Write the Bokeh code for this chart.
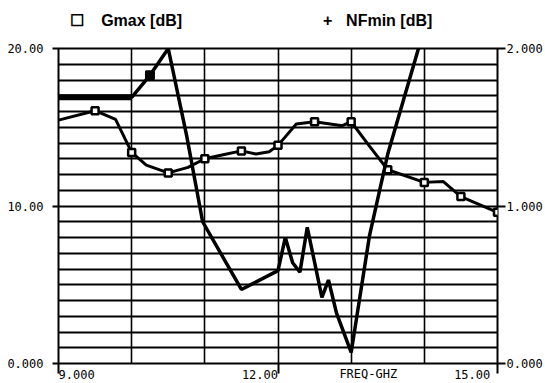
from bokeh.plotting import figure
from bokeh.models import Range1d, LinearAxis, FixedTicker
from bokeh.embed import file_html
from bokeh.resources import INLINE

# ---- data ----
freq_gmax = [9.0, 9.5, 9.78, 10.0, 10.2, 10.5, 10.77, 11.0, 11.25, 11.5, 11.7, 11.88,
             12.0, 12.25, 12.5, 12.88, 13.0, 13.25, 13.5, 14.0, 14.26, 14.5, 15.0]
gmax = [15.45, 16.05, 15.5, 13.4, 12.6, 12.1, 12.45, 13.0, 13.25, 13.5, 13.3, 13.45,
        13.85, 15.2, 15.35, 15.1, 15.35, 13.8, 12.3, 11.5, 11.55, 10.6, 9.6]
gmax_marker_freq = [9.5, 10.0, 10.5, 11.0, 11.5, 12.0, 12.5, 13.0, 13.5, 14.0, 14.5, 15.0]

freq_nf = [9.0, 10.0, 10.25, 10.5, 10.75, 10.97, 11.5, 12.0, 12.1, 12.2, 12.3, 12.4,
           12.6, 12.69, 12.8, 13.0, 13.25, 13.5, 13.92]
nf = [1.69, 1.69, 1.83, 2.0, 1.45, 0.90, 0.47, 0.59, 0.80, 0.64, 0.58, 0.865,
      0.42, 0.53, 0.32, 0.07, 0.81, 1.33, 2.0]
nf_marker_freq = [10.25]

left_ticks = [0, 10, 20]
left_labels = ["0.000", "10.00", "20.00"]
right_ticks = [0, 1, 2]
right_labels = ["0.000", "1.000", "2.000"]
x_ticks = [9, 12, 15]
x_labels = ["9.000", "12.00", "15.00"]
x_label_side = ["right", "left", "left"]   # side of the tick on which each label sits
x_label_pad = [5, 5, 7]
x_title = "FREQ-GHZ"
legend_pos = [9.25, 10.136, 12.68, 13.52]
legend_texts = ["\u2610", "Gmax [dB]", "+", "NFmin [dB]"]

MONO = "DejaVu Sans Mono"
NB = "\u00a0"

p = figure(width=545, height=383, x_range=Range1d(9, 15), y_range=Range1d(0, 20),
           output_backend="svg", toolbar_location=None,
           min_border_left=58, min_border_right=46, min_border_top=48, min_border_bottom=19,
           x_axis_location=None, y_axis_location=None)
p.extra_y_ranges = {"nf": Range1d(0, 2)}
p.background_fill_color = "white"
p.border_fill_color = "white"
p.outline_line_color = "black"
p.outline_line_width = 2


def style_axis(ax, tick_out, standoff, size="12px"):
    ax.axis_line_color = None
    ax.major_tick_out = tick_out
    ax.major_tick_in = 0
    ax.major_tick_line_width = 2
    ax.major_tick_line_color = "black"
    ax.minor_tick_line_color = None
    ax.major_label_standoff = standoff
    ax.major_label_text_font = MONO
    ax.major_label_text_font_size = size
    ax.major_label_text_color = "black"


# left axis
ya = LinearAxis(ticker=FixedTicker(ticks=left_ticks),
                major_label_overrides={t: l for t, l in zip(left_ticks, left_labels)})
style_axis(ya, 6, 9)
p.add_layout(ya, "left")

# right axis
ra = LinearAxis(y_range_name="nf", ticker=FixedTicker(ticks=right_ticks),
                major_label_overrides={t: l for t, l in zip(right_ticks, right_labels)})
style_axis(ra, 8, 1)
p.add_layout(ra, "right")

# bottom axis: labels sit beside their ticks (monospace, padded with no-break spaces)
def pad(label, side, n):
    return NB * n + label if side == "right" else label + NB * n

xa = LinearAxis(ticker=FixedTicker(ticks=x_ticks),
                major_label_overrides={t: pad(l, s, n) for t, l, s, n in
                                       zip(x_ticks, x_labels, x_label_side, x_label_pad)})
style_axis(xa, 10, -6)
xa.axis_label = NB * 25 + x_title
xa.axis_label_text_font = MONO
xa.axis_label_text_font_size = "12px"
xa.axis_label_text_font_style = "normal"
xa.axis_label_text_color = "black"
xa.axis_label_standoff = -18
p.add_layout(xa, "below")

# legend line on top, drawn as an axis of texts
la = LinearAxis(ticker=FixedTicker(ticks=legend_pos),
                major_label_overrides={t: l for t, l in zip(legend_pos, legend_texts)})
style_axis(la, 0, 20, "16px")
la.major_tick_line_color = None
la.major_label_text_font = "Liberation Sans"
la.major_label_text_font_style = "bold"
p.add_layout(la, "above")

# grid
p.xgrid.ticker = FixedTicker(ticks=list(range(9, 16)))
p.ygrid.ticker = FixedTicker(ticks=list(range(0, 21)))
p.xgrid.grid_line_color = "black"
p.ygrid.grid_line_color = "black"
p.xgrid.grid_line_width = 1.6
p.ygrid.grid_line_width = 1.8

# curves
p.line(freq_gmax, gmax, line_color="black", line_width=3)
mk = [gmax[freq_gmax.index(f)] for f in gmax_marker_freq]
p.scatter(gmax_marker_freq, mk, marker="square", size=7, fill_color="white",
          line_color="black", line_width=2.5)

p.line(freq_nf, nf, line_color="black", line_width=3.5, y_range_name="nf")
p.line(freq_nf[:2], nf[:2], line_color="black", line_width=6, y_range_name="nf")
nmk = [nf[freq_nf.index(f)] for f in nf_marker_freq]
p.scatter(nf_marker_freq, nmk, marker="square", size=8, fill_color="black",
          line_color="black", line_width=2, y_range_name="nf")

open("out.html", "w").write(file_html(p, INLINE))
